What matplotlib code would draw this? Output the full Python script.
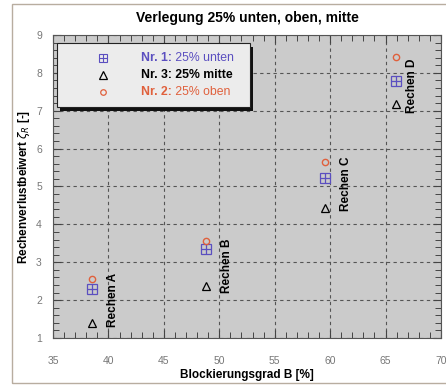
import matplotlib
matplotlib.use("Agg")
import matplotlib.pyplot as plt
from matplotlib.patches import Rectangle
from matplotlib.ticker import MultipleLocator

plt.rcParams["font.family"] = ["Liberation Sans", "DejaVu Sans"]

# Messwerte je Rechen (A, B, C, D)
rechen = ["Rechen A", "Rechen B", "Rechen C", "Rechen D"]
blockierung = [38.5, 48.8, 59.5, 65.9]
zeta_unten = [2.30, 3.36, 5.23, 7.79]   # Nr. 1
zeta_mitte = [1.39, 2.36, 4.44, 7.18]   # Nr. 3
zeta_oben = [2.55, 3.57, 5.64, 8.43]    # Nr. 2

# Position der Beschriftungen
label_x = [40.4, 50.7, 61.45, 67.4]
label_y = [2.0, 2.9, 5.06, 7.67]

blau = "#5b4fc0"
rot = "#e0603c"

fig = plt.figure(figsize=(4.46, 3.85), dpi=100)
ax = fig.add_axes([53 / 446, 1 - 338 / 385, 388 / 446, 303 / 385])
ax.set_facecolor("#cbcbcb")

# Rahmen um die Grafik
fig.patches.append(Rectangle((12 / 446, 2 / 385), 1.0, 379 / 385,
                             transform=fig.transFigure, fill=False,
                             edgecolor="#b8ada0", lw=1.0))

# Quadrat mit Kreuz = offenes Quadrat + Plus
ax.plot(blockierung, zeta_unten, ls="none", marker="s", ms=6.5,
        mfc="none", mec=blau, mew=0.9, zorder=4)
ax.plot(blockierung, zeta_unten, ls="none", marker="+", ms=6.5,
        mec=blau, mew=0.9, zorder=4)
ax.plot(blockierung, zeta_mitte, ls="none", marker="^", ms=6,
        mfc="none", mec="black", mew=0.9, zorder=4)
ax.plot(blockierung, zeta_oben, ls="none", marker="o", ms=4.5,
        mfc="none", mec=rot, mew=1.0, zorder=4)

for name, x, y in zip(rechen, label_x, label_y):
    ax.text(x, y, name, rotation=90, ha="center", va="center",
            fontsize=8.5, fontweight="bold", zorder=5)

ax.set_xlim(35, 70)
ax.set_ylim(1, 9)
ax.xaxis.set_major_locator(MultipleLocator(5))
ax.xaxis.set_minor_locator(MultipleLocator(1))
ax.yaxis.set_major_locator(MultipleLocator(1))
ax.yaxis.set_minor_locator(MultipleLocator(0.2))
ax.tick_params(which="both", direction="in", top=True, right=True,
               color="#444444", labelcolor="#777777", labelsize=7.5)
ax.tick_params(which="major", length=6, width=0.8, pad=8)
ax.tick_params(axis="x", which="major", pad=13)
ax.tick_params(which="minor", length=4, width=0.7)
ax.grid(True, which="major", color="#555555", ls=(0, (3, 3)), lw=0.8)
for sp in ax.spines.values():
    sp.set_color("#555555")
    sp.set_linewidth(0.8)

ax.set_title("Verlegung 25% unten, oben, mitte", fontsize=10,
             fontweight="bold", pad=9)
ax.set_xlabel("Blockierungsgrad B [%]", fontsize=8.5, fontweight="bold",
              labelpad=2)
ax.set_ylabel(r"Rechenverlustbeiwert $\zeta_R$ [-]", fontsize=8.5,
              fontweight="bold", labelpad=3)

# Legende als eigenes Kästchen mit Schatten
bx, by, bw, bh = 0.01, 0.762, 0.497, 0.212
ax.add_patch(Rectangle((bx + 0.008, by - 0.012), bw, bh, transform=ax.transAxes,
                       facecolor="#111111", edgecolor="none", zorder=6))
ax.add_patch(Rectangle((bx, by), bw, bh, transform=ax.transAxes,
                       facecolor="#ececec", edgecolor="#222222", lw=0.8,
                       zorder=7))
eintraege = [
    ([("s", dict(mfc="none", mec=blau, mew=0.8, ms=5.5)),
      ("+", dict(mec=blau, mew=0.8, ms=5.5))],
     "Nr. 1:", "25% unten", blau, "normal"),
    ([("^", dict(mfc="none", mec="black", mew=0.9, ms=5.5))],
     "Nr. 3:", "25% mitte", "black", "bold"),
    ([("o", dict(mfc="none", mec=rot, mew=0.9, ms=4))],
     "Nr. 2:", "25% oben", rot, "normal"),
]
zeilen_y = [0.923, 0.867, 0.811]
for (marker, nr, txt, farbe, gewicht), yy in zip(eintraege, zeilen_y):
    for m, kw in marker:
        ax.plot([0.129], [yy], ls="none", marker=m, transform=ax.transAxes,
                zorder=8, clip_on=False, **kw)
    t = ax.text(0.227, yy, nr, transform=ax.transAxes, color=farbe,
                fontsize=8.8, fontweight="bold", va="center", zorder=8)
    ax.annotate(" " + txt, xy=(1, 0.5), xycoords=t, va="center",
                color=farbe, fontsize=8.8, fontweight=gewicht, zorder=8)

fig.savefig("out.png", dpi=100)
